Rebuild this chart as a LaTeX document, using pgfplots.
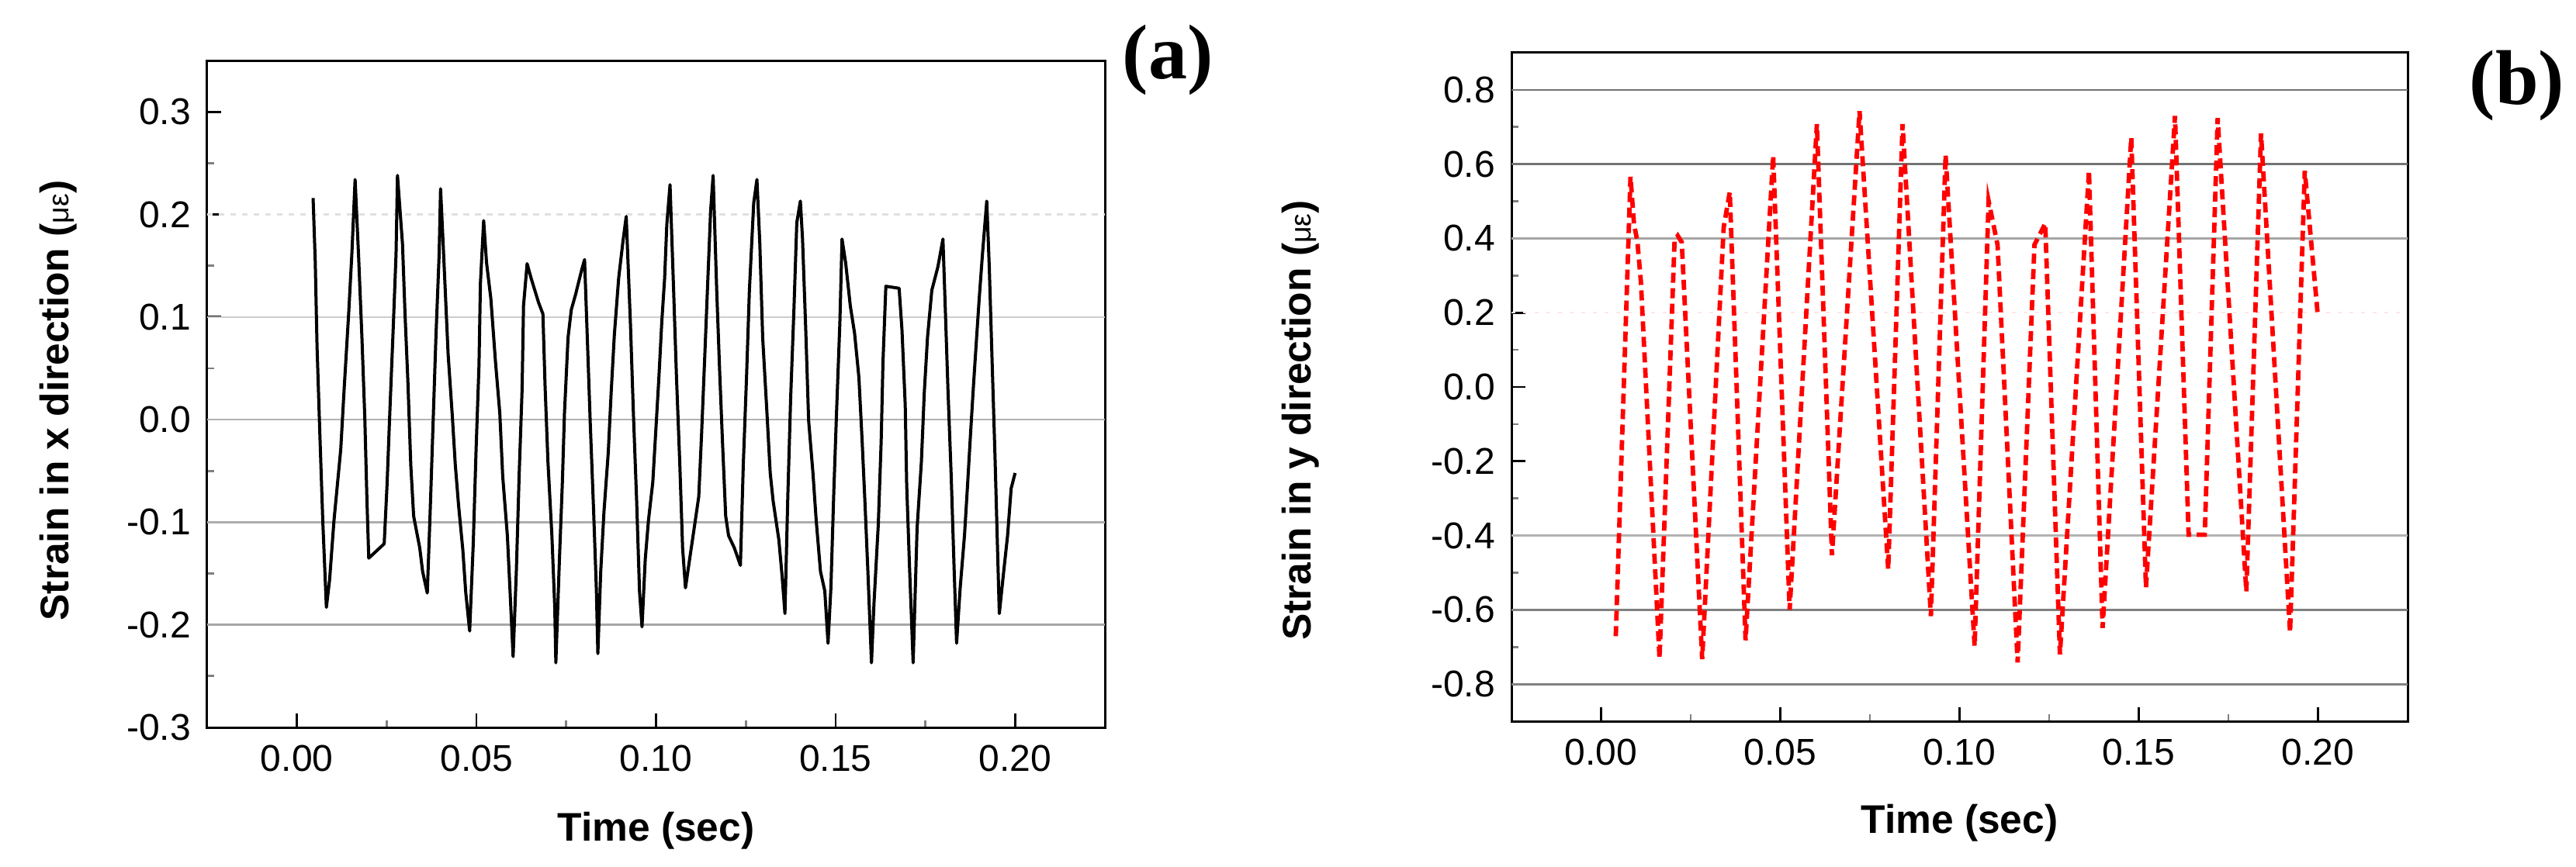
\documentclass[border=0pt]{standalone}
\usepackage{fontspec}
\setmainfont{Liberation Sans}
\newfontfamily\serifbold{Liberation Serif}
\usepackage{pgfplots}
\pgfplotsset{compat=1.18}

\pgfplotstableread{
t v
0.0045 0.216
0.0051 0.154
0.0056 0.071
0.0064 -0.016
0.0072 -0.099
0.0082 -0.183
0.0091 -0.156
0.0103 -0.099
0.0122 -0.029
0.0132 0.033
0.0144 0.103
0.0153 0.162
0.0162 0.234
0.0172 0.157
0.0181 0.080
0.0189 0.002
0.0195 -0.079
0.0200 -0.135
0.0243 -0.121
0.0251 -0.063
0.0259 0.010
0.0268 0.088
0.0276 0.161
0.0280 0.238
0.0294 0.171
0.0301 0.103
0.0309 0.037
0.0317 -0.044
0.0325 -0.094
0.0342 -0.125
0.0350 -0.148
0.0363 -0.169
0.0371 -0.090
0.0379 -0.005
0.0387 0.080
0.0396 0.161
0.0400 0.225
0.0408 0.165
0.0421 0.064
0.0433 0.002
0.0441 -0.044
0.0450 -0.083
0.0462 -0.127
0.0470 -0.168
0.0481 -0.206
0.0491 -0.121
0.0499 -0.028
0.0507 0.053
0.0511 0.133
0.0520 0.194
0.0528 0.153
0.0540 0.118
0.0553 0.056
0.0565 0.006
0.0573 -0.055
0.0586 -0.113
0.0594 -0.171
0.0602 -0.231
0.0611 -0.148
0.0619 -0.052
0.0627 0.029
0.0631 0.111
0.0641 0.152
0.0652 0.138
0.0673 0.114
0.0685 0.103
0.0691 0.033
0.0699 -0.041
0.0710 -0.113
0.0718 -0.183
0.0721 -0.237
0.0731 -0.136
0.0739 -0.063
0.0745 0.006
0.0755 0.080
0.0764 0.107
0.0776 0.122
0.0793 0.146
0.0801 0.156
0.0809 0.076
0.0817 -0.005
0.0826 -0.087
0.0834 -0.167
0.0838 -0.228
0.0846 -0.148
0.0855 -0.090
0.0867 -0.032
0.0875 0.026
0.0884 0.083
0.0896 0.138
0.0908 0.174
0.0917 0.198
0.0929 0.091
0.0937 0.006
0.0946 -0.079
0.0954 -0.167
0.0961 -0.202
0.0970 -0.136
0.0979 -0.098
0.0991 -0.061
0.0999 -0.013
0.1008 0.041
0.1016 0.095
0.1024 0.138
0.1030 0.190
0.1039 0.229
0.1049 0.126
0.1057 0.041
0.1066 -0.041
0.1074 -0.125
0.1082 -0.164
0.1094 -0.135
0.1107 -0.104
0.1119 -0.075
0.1127 -0.013
0.1136 0.064
0.1144 0.134
0.1152 0.203
0.1159 0.238
0.1169 0.126
0.1177 0.049
0.1185 -0.021
0.1194 -0.094
0.1202 -0.113
0.1218 -0.125
0.1235 -0.142
0.1243 -0.044
0.1252 0.041
0.1260 0.126
0.1272 0.211
0.1281 0.234
0.1289 0.172
0.1297 0.080
0.1309 0.006
0.1318 -0.052
0.1326 -0.079
0.1342 -0.117
0.1351 -0.152
0.1359 -0.189
0.1367 -0.075
0.1375 0.022
0.1384 0.107
0.1392 0.192
0.1402 0.213
0.1408 0.176
0.1417 0.087
0.1425 -0.001
0.1437 -0.052
0.1446 -0.098
0.1458 -0.148
0.1470 -0.167
0.1479 -0.218
0.1487 -0.164
0.1495 -0.071
0.1503 0.010
0.1512 0.095
0.1518 0.176
0.1528 0.153
0.1541 0.111
0.1553 0.084
0.1565 0.041
0.1574 -0.021
0.1582 -0.082
0.1590 -0.148
0.1600 -0.237
0.1607 -0.179
0.1619 -0.102
0.1627 -0.021
0.1632 0.056
0.1640 0.130
0.1677 0.128
0.1685 0.087
0.1694 0.014
0.1698 -0.063
0.1706 -0.144
0.1716 -0.237
0.1727 -0.106
0.1739 -0.041
0.1747 0.026
0.1756 0.080
0.1768 0.126
0.1785 0.149
0.1799 0.176
0.1805 0.114
0.1813 0.029
0.1822 -0.055
0.1830 -0.144
0.1837 -0.218
0.1847 -0.164
0.1859 -0.113
0.1867 -0.067
0.1876 -0.013
0.1884 0.033
0.1892 0.076
0.1900 0.118
0.1909 0.161
0.1921 0.213
0.1928 0.149
0.1936 0.056
0.1944 -0.036
0.1950 -0.113
0.1956 -0.189
0.1967 -0.152
0.1979 -0.113
0.1989 -0.067
0.2000 -0.052
}\dataA

\pgfplotstableread{
t v
0.0041 -0.671
0.0082 0.566
0.0092 0.437
0.0101 0.394
0.0111 0.284
0.0163 -0.731
0.0205 0.394
0.0214 0.407
0.0225 0.390
0.0282 -0.733
0.0342 0.430
0.0359 0.525
0.0403 -0.682
0.0480 0.623
0.0526 -0.600
0.0602 0.708
0.0644 -0.453
0.0721 0.743
0.0801 -0.491
0.0841 0.708
0.0920 -0.617
0.0961 0.625
0.1042 -0.698
0.1081 0.501
0.1106 0.383
0.1162 -0.742
0.1209 0.383
0.1239 0.440
0.1280 -0.720
0.1361 0.582
0.1399 -0.649
0.1479 0.672
0.1520 -0.540
0.1601 0.730
0.1639 -0.398
0.1684 -0.398
0.1720 0.724
0.1800 -0.551
0.1841 0.683
0.1922 -0.660
0.1963 0.582
0.1999 0.197
}\dataB

\pgfplotsset{
  panelstyle/.style={
    scale only axis, anchor=south west,
    xmin=-0.025, xmax=0.225,
    xtick={0,0.05,0.1,0.15,0.2},
    minor x tick num=1, minor y tick num=1,
    tick pos=left, tick align=inside,
    major tick length=3.6pt, minor tick length=1.8pt,
    major tick style={black, line width=0.55pt},
    minor tick style={gray, line width=0.55pt},
    axis line style={line width=0.6pt},
    /pgf/number format/assume math mode=true,
    scaled ticks=false,
    x tick label style={/pgf/number format/.cd, fixed, fixed zerofill, precision=2, /tikz/.cd},
    y tick label style={/pgf/number format/.cd, fixed, fixed zerofill, precision=1, /tikz/.cd},
    tick label style={font=\fontsize{9.6}{11}\selectfont},
    xticklabel style={inner sep=0pt, yshift=-4.4pt},
    yticklabel style={inner sep=0pt, xshift=-4pt},
    label style={font=\fontsize{10.3}{12}\selectfont\bfseries},
    xlabel={Time (sec)},
  }
}

\begin{document}
\begin{tikzpicture}
\path (0pt,0pt) rectangle (664pt,223.4pt);

% ---------- (a) ----------
\begin{axis}[panelstyle,
  at={(53.4pt,35.8pt)}, width=231.4pt, height=172pt,
  ymin=-0.3, ymax=0.35,
  ytick={-0.3,-0.2,-0.1,0,0.1,0.2,0.3},
  x axis line style={black}, 
  xlabel style={at={(axis description cs:0.5,-0.1698)}, anchor=base, inner sep=0pt},
  ylabel={Strain in x direction (\textmd{\fontsize{7.5}{9}\selectfont με})},
  ylabel style={at={(axis description cs:-0.166,0.49)}, anchor=center, inner sep=0pt},
]
\draw[black!12, line width=0.5pt, dash pattern=on 1.5pt off 1.5pt] (axis cs:-0.025,0.2) -- (axis cs:0.225,0.2);
\draw[black!20, line width=0.5pt] (axis cs:-0.025,0.1) -- (axis cs:0.225,0.1);
\draw[black!30, line width=0.5pt] (axis cs:-0.025,0) -- (axis cs:0.225,0);
\draw[black!32, line width=0.5pt] (axis cs:-0.025,-0.1) -- (axis cs:0.225,-0.1);
\draw[black!35, line width=0.5pt] (axis cs:-0.025,-0.2) -- (axis cs:0.225,-0.2);
\addplot[black, line width=0.8pt, line join=round] table[x=t, y=v] {\dataA};
\end{axis}

% ---------- (b) ----------
\begin{axis}[panelstyle,
  at={(389.6pt,37.4pt)}, width=231pt, height=172.4pt,
  ymin=-0.9, ymax=0.9,
  ytick={-0.8,-0.6,-0.4,-0.2,0,0.2,0.4,0.6,0.8},
  xlabel style={at={(axis description cs:0.5,-0.168)}, anchor=base, inner sep=0pt},
  ylabel={Strain in y direction (\textmd{\fontsize{7.5}{9}\selectfont με})},
  ylabel style={at={(axis description cs:-0.235,0.45)}, anchor=center, inner sep=0pt},
]
\draw[red!10, line width=0.4pt, dash pattern=on 1pt off 2pt] (axis cs:-0.025,0.2) -- (axis cs:0.225,0.2);
\draw[black!55, line width=0.55pt] (axis cs:-0.025,0.8) -- (axis cs:0.225,0.8);
\draw[black!55, line width=0.55pt] (axis cs:-0.025,0.6) -- (axis cs:0.225,0.6);
\draw[black!35, line width=0.55pt] (axis cs:-0.025,0.4) -- (axis cs:0.225,0.4);
\draw[black!30, line width=0.55pt] (axis cs:-0.025,-0.4) -- (axis cs:0.225,-0.4);
\draw[black!50, line width=0.55pt] (axis cs:-0.025,-0.6) -- (axis cs:0.225,-0.6);
\draw[black!50, line width=0.55pt] (axis cs:-0.025,-0.8) -- (axis cs:0.225,-0.8);
\addplot[red, line width=1.15pt, dash pattern=on 2.6pt off 1.4pt] table[x=t, y=v] {\dataB};
\end{axis}

\node[font=\serifbold\bfseries\fontsize{20}{24}\selectfont, inner sep=0pt] at (301pt,208pt) {(a)};
\node[font=\serifbold\bfseries\fontsize{20}{24}\selectfont, inner sep=0pt] at (648.8pt,201.4pt) {(b)};
\end{tikzpicture}
\end{document}
